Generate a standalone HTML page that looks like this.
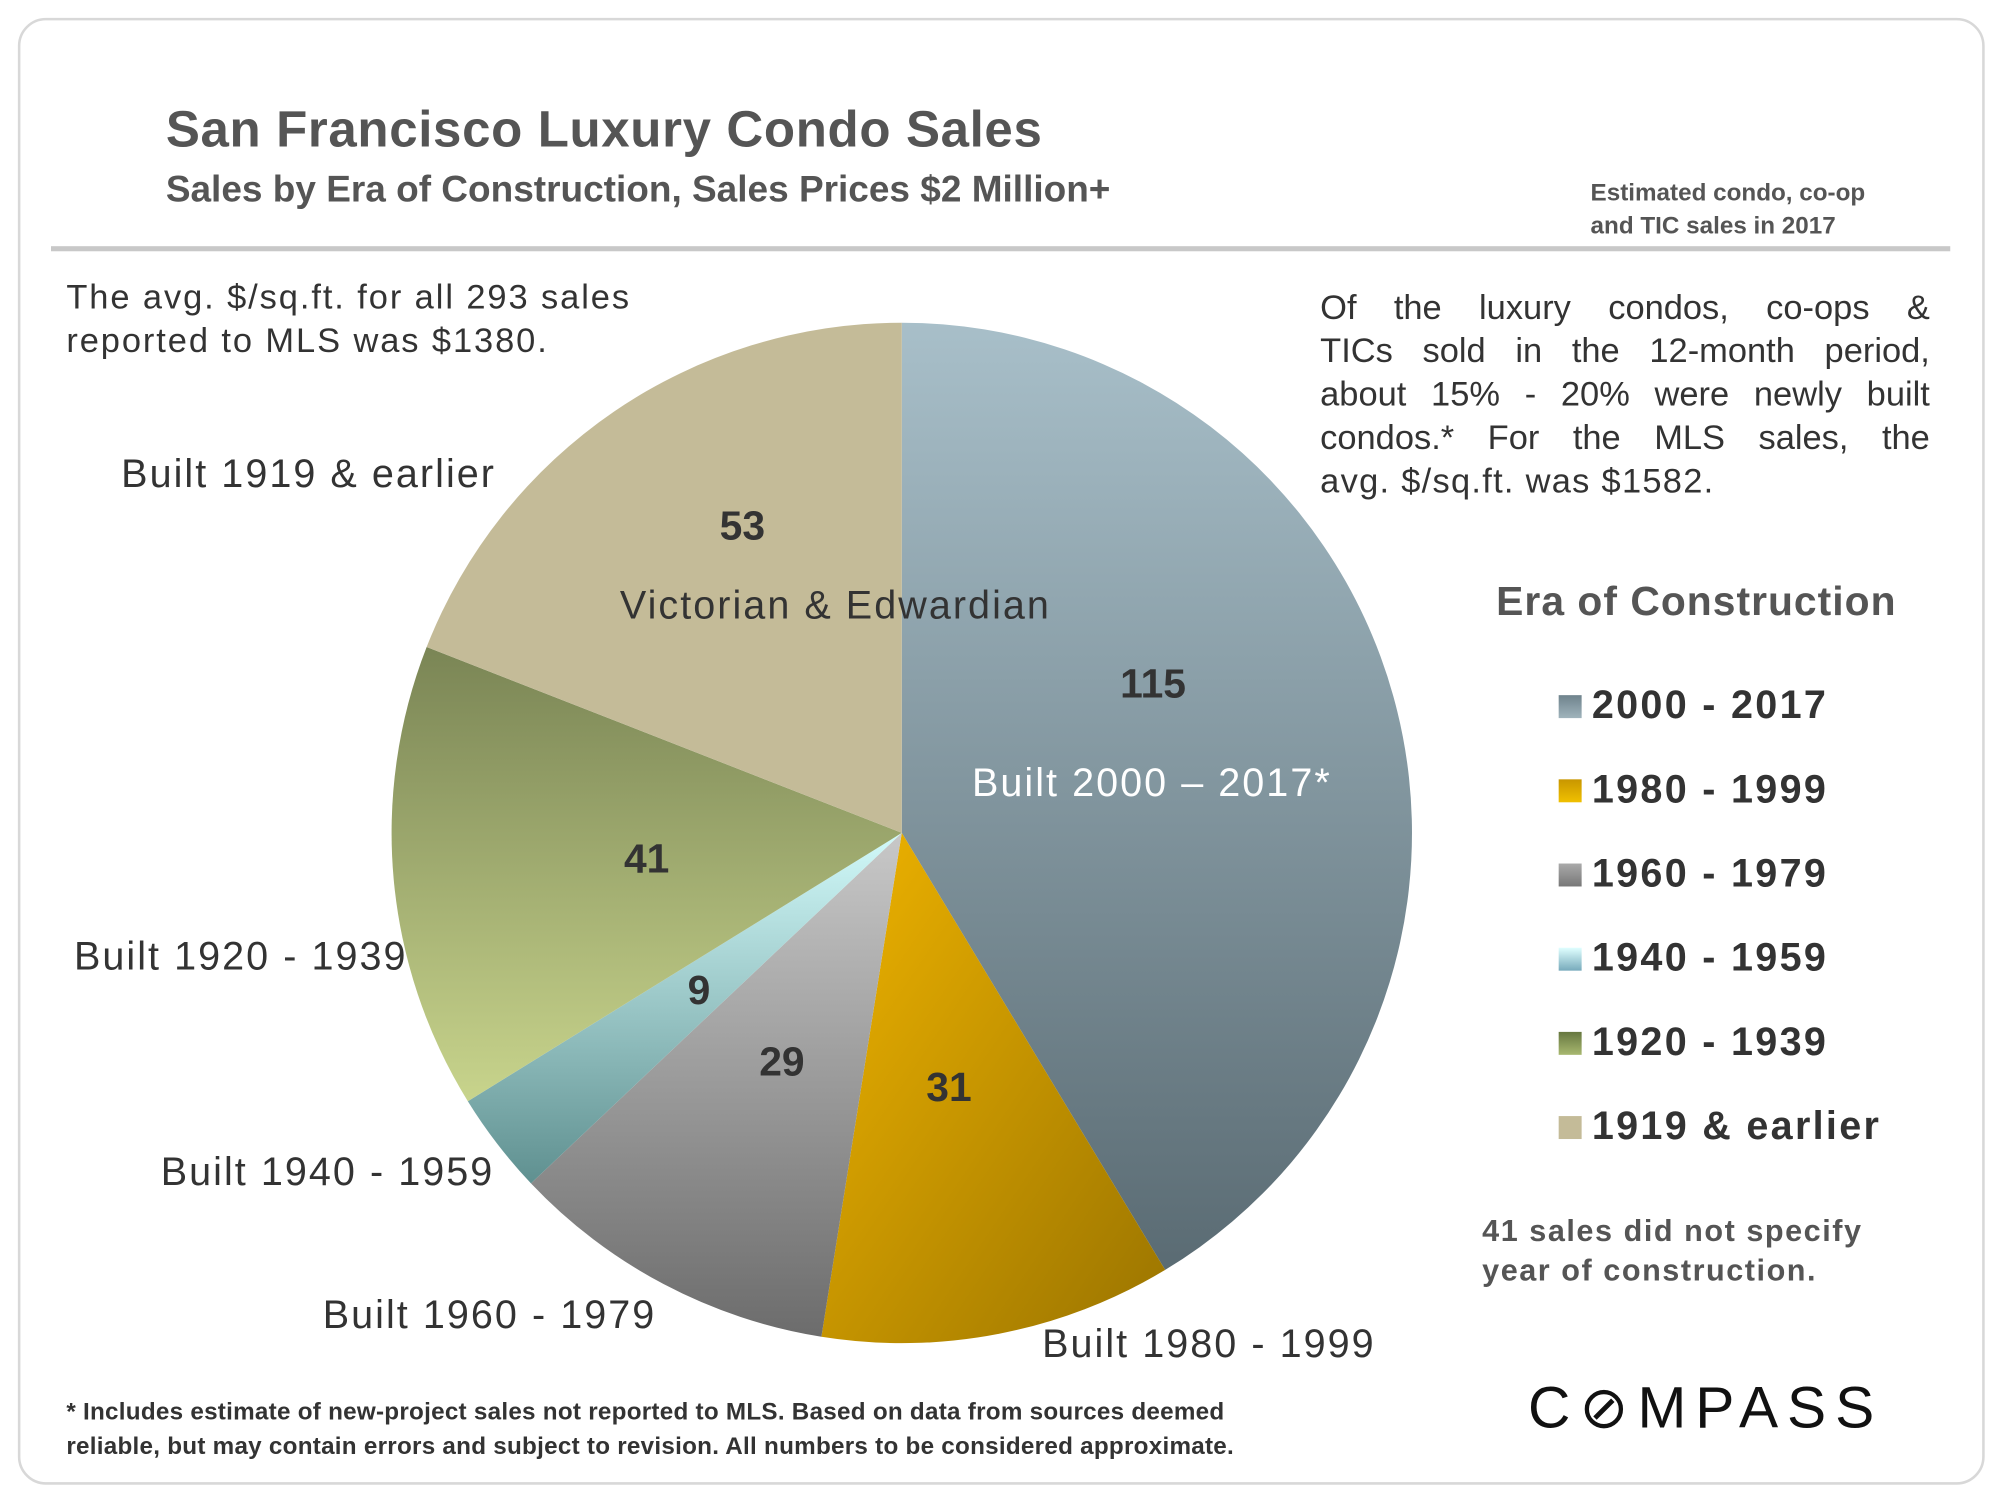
<!DOCTYPE html>
<html><head><meta charset="utf-8">
<style>
html,body{margin:0;padding:0;background:#fff;overflow:hidden}
#wrap{position:absolute;left:0;top:0;width:1568px;height:1176px;transform-origin:0 0;transform:scale(1.27551);font-family:"Liberation Sans",sans-serif;color:#333}
.t{position:absolute;white-space:nowrap}
.narrow{font-family:"Liberation Sans Narrow","Liberation Sans",sans-serif;font-weight:bold}
.jl{display:block;text-align:justify;text-align-last:justify;height:34px}
</style></head><body>
<div id="wrap">
<div class="t" style="left:14px;top:14px;width:1538px;height:1146px;border:2px solid #d8d8d8;border-radius:22px"></div>
<div class="t narrow" style="left:130px;top:80px;font-size:40px;color:#555;letter-spacing:0.5px">San Francisco Luxury Condo Sales</div>
<div class="t narrow" style="left:130px;top:133px;font-size:29px;color:#555">Sales by Era of Construction, Sales Prices $2 Million+</div>
<div class="t narrow" style="left:1247px;top:139px;font-size:19px;line-height:26px;color:#555">Estimated condo, co-op<br>and TIC sales in 2017</div>
<div class="t" style="left:40px;top:193px;width:1489px;height:4px;background:#c8c8c8"></div>
<div class="t" style="left:52px;top:216px;font-size:27px;line-height:34px;color:#333;letter-spacing:1.5px">The avg. $/sq.ft. for all 293 sales<br>reported to MLS was $1380.</div>
<div class="t" style="left:1035px;top:224px;width:478px;font-size:27px;line-height:34px;color:#333;white-space:normal">
<span class="jl">Of the luxury condos, co-ops &amp;</span><span class="jl">TICs sold in the 12-month period,</span><span class="jl">about 15% - 20% were newly built</span><span class="jl">condos.* For the MLS sales, the</span><span style="display:block;letter-spacing:1px">avg. $/sq.ft. was $1582.</span></div>
<svg id="pie" width="1568" height="1176" style="position:absolute;left:0;top:0"></svg>
<div class="t" style="left:1173px;top:453px;font-size:32px;font-weight:bold;color:#555;letter-spacing:0.8px">Era of Construction</div>
<div id="legend"></div>
<div class="t narrow" style="left:1162px;top:950px;font-size:24px;line-height:31px;color:#555;letter-spacing:1.2px">41 sales did not specify<br>year of construction.</div>
<div class="t narrow" style="left:52px;top:1094px;font-size:19px;line-height:27px;color:#333;letter-spacing:0.2px">* Includes estimate of new-project sales not reported to MLS. Based on data from sources deemed<br>reliable, but may contain errors and subject to revision. All numbers to be considered approximate.</div>
<div class="t" style="left:1198px;top:1076px;font-size:46px;letter-spacing:7px;color:#111">C&#8856;MPASS</div>
</div>
<script>
const categories=["2000 - 2017","1980 - 1999","1960 - 1979","1940 - 1959","1920 - 1939","1919 & earlier"];
const values=[115,31,29,9,41,53];
const sliceLabels=["Built 2000 – 2017*","Built 1980 - 1999","Built 1960 - 1979","Built 1940 - 1959","Built 1920 - 1939","Built 1919 & earlier"];
const colorsTop=["#a8bfc9","#f0b400","#c8c8c8","#d2fafa","#7a8555","#c4bb98"];
const colorsBot=["#5a6b73","#9a7400","#6c6c6c","#5f9090","#c8d48c","#c4bb98"];
const legTop=["#6f838c","#c89600","#aaaaaa","#e0ffff","#66773f","#c4bb98"];
const legBot=["#9fb3bc","#f0c000","#777","#7ab","#a8b870","#c4bb98"];
const svg=document.getElementById('pie');const NS="http://www.w3.org/2000/svg";
const cx=707,cy=653,R=400;
const total=values.reduce((a,b)=>a+b,0);
function pt(a,r){return [cx+r*Math.sin(a),cy-r*Math.cos(a)];}
const defs=document.createElementNS(NS,'defs');svg.appendChild(defs);
let a0=0;
const numPos=[[904,535],[744,851],[613,831],[548,775],[507,672],[582,411]];
const extPos=[[762,613,"#fff"],[817,1053,"#333"],[253,1030,"#333"],[126,918,"#333"],[58,749,"#333"],[95,371,"#333"]];
values.forEach((v,i)=>{
  const a1=a0+v/total*2*Math.PI;
  const g=document.createElementNS(NS,'linearGradient');g.id='g'+i;
  g.setAttribute('gradientUnits','objectBoundingBox');g.setAttribute('x1',0);g.setAttribute('y1',0);g.setAttribute('x2',i==1?1:0);g.setAttribute('y2',1);
  g.innerHTML=`<stop offset="0" stop-color="${colorsTop[i]}"/><stop offset="1" stop-color="${colorsBot[i]}"/>`;
  defs.appendChild(g);
  const p0=pt(a0,R),p1=pt(a1,R);
  const path=document.createElementNS(NS,'path');
  path.setAttribute('d',`M${cx},${cy}L${p0[0]},${p0[1]}A${R},${R} 0 ${a1-a0>Math.PI?1:0} 1 ${p1[0]},${p1[1]}Z`);
  path.setAttribute('fill',`url(#g${i})`);
  
  
  svg.appendChild(path);
  a0=a1;
});
values.forEach((v,i)=>{
  const t=document.createElementNS(NS,'text');
  t.setAttribute('x',numPos[i][0]);t.setAttribute('y',numPos[i][1]+12);t.setAttribute('text-anchor','middle');
  t.setAttribute('font-family','"Liberation Sans Narrow","Liberation Sans",sans-serif');t.setAttribute('font-weight','bold');t.setAttribute('font-size','32');t.setAttribute('fill','#333');
  t.textContent=v;
  
  
  svg.appendChild(t);
  const e=document.createElementNS(NS,'text');
  e.setAttribute('x',extPos[i][0]);e.setAttribute('y',extPos[i][1]+11);e.setAttribute('font-family','"Liberation Sans",sans-serif');e.setAttribute('font-size','31');e.setAttribute('fill',extPos[i][2]);
  e.setAttribute('letter-spacing','1.6');
  e.textContent=sliceLabels[i];
  
  
  svg.appendChild(e);
});
const vic=document.createElementNS(NS,'text');
vic.setAttribute('x',486);vic.setAttribute('y',485);vic.setAttribute('font-family','"Liberation Sans",sans-serif');vic.setAttribute('font-size','31');vic.setAttribute('fill','#333');
vic.setAttribute('letter-spacing','1.6');
vic.textContent="Victorian & Edwardian";


svg.appendChild(vic);
const leg=document.getElementById('legend');
categories.forEach((c,i)=>{
  const d=document.createElement('div');d.className='t';
  d.style.cssText=`left:1222px;top:${536+i*66}px;font-size:31px;font-weight:bold;color:#333;line-height:34px;letter-spacing:1.8px`;
  d.innerHTML=`<span style="display:inline-block;width:18px;height:18px;margin-right:8px;background:linear-gradient(${legTop[i]},${legBot[i]})"></span>`;
  d.appendChild(document.createTextNode(c));
  
  
  leg.appendChild(d);
});
</script>
</body></html>
